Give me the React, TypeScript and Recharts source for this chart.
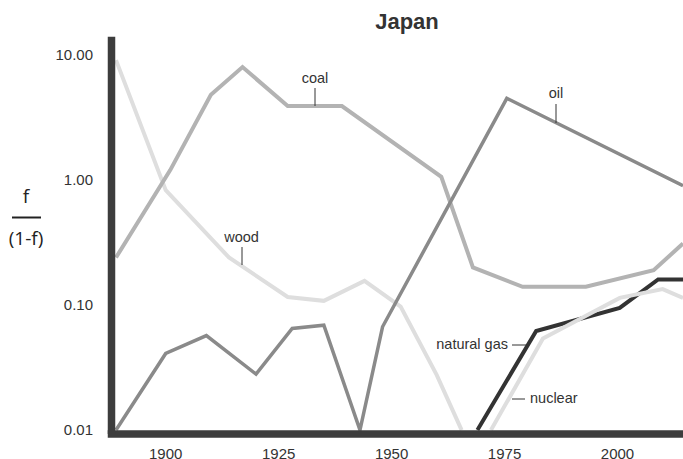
import { Line, LineChart, XAxis, YAxis } from 'recharts';

// values (f / (1-f), log scale)
const coalYears = [1889, 1901, 1910, 1917, 1927, 1939, 1961, 1968, 1979, 1993, 2008, 2014.5];
const coalValues = [0.24, 1.2, 4.8, 8.0, 3.9, 3.9, 1.06, 0.2, 0.14, 0.14, 0.19, 0.31];

const woodYears = [1889, 1900, 1914, 1927, 1935, 1944, 1952, 1960, 1965.5];
const woodValues = [9.1, 0.83, 0.24, 0.116, 0.108, 0.156, 0.097, 0.0275, 0.01];

const oilYears = [1889, 1900, 1909, 1920, 1928, 1935, 1943, 1948, 1975.5, 2014.5];
const oilValues = [0.01, 0.041, 0.057, 0.028, 0.065, 0.069, 0.01, 0.067, 4.5, 0.9];

const gasYears = [1969, 1982, 2000.5, 2009, 2014.5];
const gasValues = [0.01, 0.062, 0.095, 0.16, 0.16];

const nuclearYears = [1972, 1983.5, 2000.5, 2010, 2014.5];
const nuclearValues = [0.01, 0.054, 0.114, 0.134, 0.114];

const xTicks = [1900, 1925, 1950, 1975, 2000];
const yTicks = [0.01, 0.1, 1, 10];

const zip = (years: number[], values: number[]) =>
  years.map((year, i) => ({ year, v: values[i] }));

const font = '"Liberation Sans", Arial, sans-serif';
const ink = '#333333';
const axisColor = '#3d3d3d';

export default function App() {
  return (
    <div style={{ position: 'fixed', left: 0, top: 0, width: 683, height: 459, overflow: 'hidden', background: '#fff' }}>
      <LineChart width={683} height={459} margin={{ top: 36.7, right: 0, bottom: 0, left: 0 }}>
        <XAxis
          type="number"
          dataKey="year"
          domain={[1888, 2014.5]}
          allowDataOverflow
          ticks={xTicks}
          height={25}
          tickSize={0}
          tickMargin={14}
          axisLine={{ stroke: axisColor, strokeWidth: 7.5, strokeLinecap: 'square' }}
          tickLine={false}
          tick={{ fill: ink, fontSize: 15, fontFamily: font }}
        />
        <YAxis
          type="number"
          scale="log"
          domain={[0.0093, 14]}
          allowDataOverflow
          ticks={yTicks}
          width={111.5}
          tickSize={0}
          tickMargin={18.5}
          tickFormatter={(v: number) => v.toFixed(2)}
          axisLine={{ stroke: axisColor, strokeWidth: 7.5 }}
          tickLine={false}
          tick={{ fill: ink, fontSize: 15, fontFamily: font }}
        />
        <Line data={zip(woodYears, woodValues)} dataKey="v" type="linear" stroke="#dedede" strokeWidth={4} dot={false} isAnimationActive={false} />
        <Line data={zip(coalYears, coalValues)} dataKey="v" type="linear" stroke="#b3b3b3" strokeWidth={4} dot={false} isAnimationActive={false} />
        <Line data={zip(gasYears, gasValues)} dataKey="v" type="linear" stroke="#333333" strokeWidth={4} dot={false} isAnimationActive={false} />
        <Line data={zip(nuclearYears, nuclearValues)} dataKey="v" type="linear" stroke="#dedede" strokeWidth={4} dot={false} isAnimationActive={false} />
        <Line data={zip(oilYears, oilValues)} dataKey="v" type="linear" stroke="#8a8a8a" strokeWidth={3.5} dot={false} isAnimationActive={false} />
      </LineChart>

      {/* title, axis label and series callouts */}
      <svg width={683} height={459} style={{ position: 'absolute', left: 0, top: 0, pointerEvents: 'none' }}>
        <text x={407} y={28.8} textAnchor="middle" fontFamily={font} fontWeight="bold" fontSize={22} fill={ink}>
          Japan
        </text>

        <g fontFamily='"Open Sans", sans-serif' fontSize={19} fill="#222" textAnchor="middle">
          <text x={26} y={203}>f</text>
          <text x={26} y={245}>(1-f)</text>
        </g>
        <line x1={12} x2={41} y1={217.5} y2={217.5} stroke="#222" strokeWidth={2} />

        <g fontFamily={font} fontSize={14.5} fill={ink}>
          <text x={315} y={83} textAnchor="middle">coal</text>
          <text x={556} y={98} textAnchor="middle">oil</text>
          <text x={241.5} y={242} textAnchor="middle">wood</text>
          <text x={508} y={349} textAnchor="end">natural gas</text>
          <text x={530} y={403}>nuclear</text>
        </g>
        <g stroke={ink} strokeWidth={1}>
          <line x1={315} x2={315} y1={88} y2={106} />
          <line x1={556} x2={556} y1={104} y2={123} />
          <line x1={242} x2={242} y1={247} y2={265} />
          <line x1={512} x2={527} y1={345} y2={345} />
          <line x1={512} x2={525} y1={399} y2={399} />
        </g>
      </svg>
    </div>
  );
}
